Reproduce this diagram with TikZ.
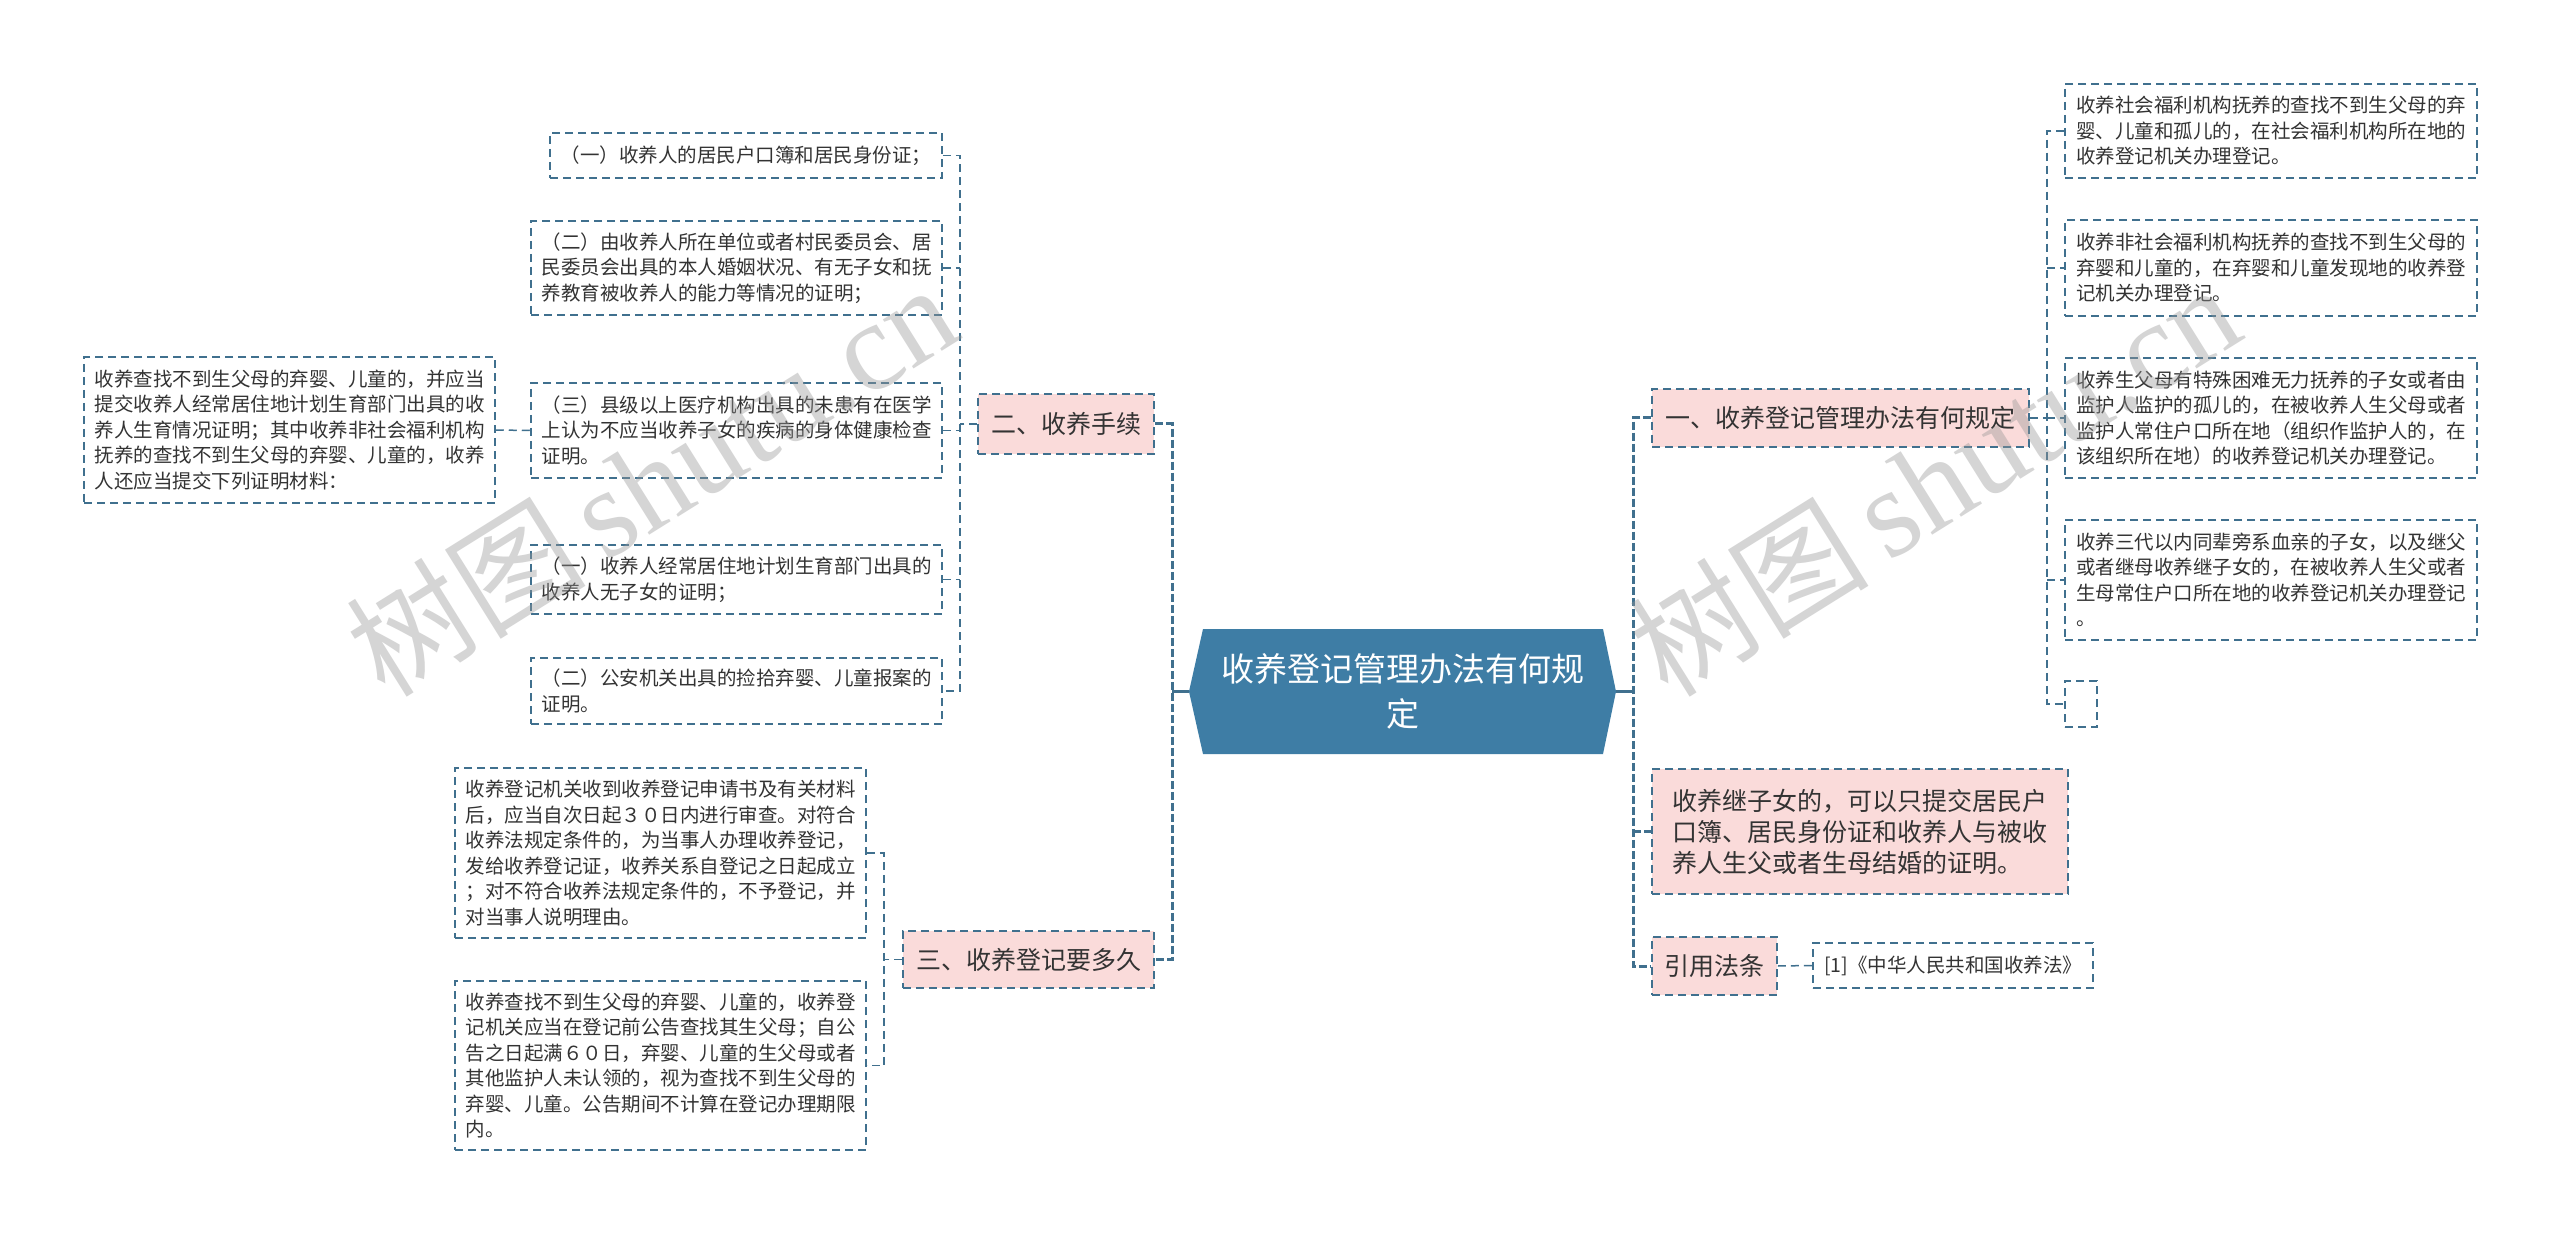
\documentclass[tikz,border=0pt]{standalone}
\usepackage{fontspec}
\setmainfont{Noto Sans CJK SC}
\newfontfamily\wmlatin{Liberation Serif}
\definecolor{lnc}{RGB}{64,112,142}
\definecolor{pinkf}{RGB}{250,219,218}
\definecolor{ctrc}{RGB}{62,125,165}
\definecolor{txt}{RGB}{51,51,51}
\definecolor{wmc}{RGB}{150,150,150}
\tikzset{
  leaf/.style={draw=lnc, line width=0.75pt, dash pattern=on 4pt off 2.5pt, text=txt,
    align=left, inner sep=0pt, font=\fontsize{9.75}{12.75}\selectfont},
  branch/.style={leaf, fill=pinkf, font=\fontsize{12.5}{15.5}\selectfont},
  ctrnode/.style={inner sep=0pt, text=white, align=center,
    font=\fontsize{16.5}{22.5}\selectfont, minimum width=213.5pt, minimum height=62.5pt},
  twig/.style={draw=lnc, line width=0.75pt, dash pattern=on 4pt off 2.5pt},
  trunk/.style={draw=lnc, line width=1.5pt, dash pattern=on 4pt off 1.5pt},
  solidtrunk/.style={draw=lnc, line width=1.5pt},
  wmark/.style={text=wmc, opacity=0.4, anchor=base west, rotate=32, inner sep=0pt}
}
\begin{document}
\begin{tikzpicture}[x=0.5pt,y=-0.5pt]
\useasboundingbox (0,0) rectangle (2560,1235);
\fill[white] (0,0) rectangle (2560,1235);

% centre
\fill[ctrc] (1189,691.5) -- (1203,629) -- (1603,629) -- (1616,691.5) -- (1603,754) -- (1203,754) -- cycle;
\node[ctrnode] (c) at (1402.5,691.5) {收养登记管理办法有何规\\定};

% left branch 二
\node[branch, minimum width=88pt, minimum height=30pt] (n2) at (1066,424) {二、收养手续};
\node[leaf, minimum width=196pt, minimum height=22.5pt] (L1) at (746,155.5) {（一）收养人的居民户口簿和居民身份证；};
\node[leaf, minimum width=205.5pt, minimum height=47pt] (L2) at (736.5,268) {（二）由收养人所在单位或者村民委员会、居\\民委员会出具的本人婚姻状况、有无子女和抚\\养教育被收养人的能力等情况的证明；};
\node[leaf, minimum width=205.5pt, minimum height=47.5pt] (L3) at (736.5,430.5) {（三）县级以上医疗机构出具的未患有在医学\\上认为不应当收养子女的疾病的身体健康检查\\证明。};
\node[leaf, minimum width=205.5pt, minimum height=34.5pt] (L4) at (736.5,579.5) {（一）收养人经常居住地计划生育部门出具的\\收养人无子女的证明；};
\node[leaf, minimum width=205.5pt, minimum height=33pt] (L5) at (736.5,691) {（二）公安机关出具的捡拾弃婴、儿童报案的\\证明。};
\node[leaf, minimum width=205.5pt, minimum height=73pt] (FL) at (289.5,430) {收养查找不到生父母的弃婴、儿童的，并应当\\提交收养人经常居住地计划生育部门出具的收\\养人生育情况证明；其中收养非社会福利机构\\抚养的查找不到生父母的弃婴、儿童的，收养\\人还应当提交下列证明材料：};

% left branch 三
\node[branch, minimum width=125.5pt, minimum height=28.5pt] (n3) at (1028.5,959.5) {三、收养登记要多久};
\node[leaf, minimum width=205.5pt, minimum height=85pt] (B1) at (660.5,853) {收养登记机关收到收养登记申请书及有关材料\\后，应当自次日起３０日内进行审查。对符合\\收养法规定条件的，为当事人办理收养登记，\\发给收养登记证，收养关系自登记之日起成立\\；对不符合收养法规定条件的，不予登记，并\\对当事人说明理由。};
\node[leaf, minimum width=205.5pt, minimum height=84.5pt] (B2) at (660.5,1065.5) {收养查找不到生父母的弃婴、儿童的，收养登\\记机关应当在登记前公告查找其生父母；自公\\告之日起满６０日，弃婴、儿童的生父母或者\\其他监护人未认领的，视为查找不到生父母的\\弃婴、儿童。公告期间不计算在登记办理期限\\内。};

% right branches
\node[branch, minimum width=188.5pt, minimum height=29pt] (n1) at (1840.5,418) {一、收养登记管理办法有何规定};
\node[leaf, minimum width=206pt, minimum height=47pt] (R1) at (2271,131) {收养社会福利机构抚养的查找不到生父母的弃\\婴、儿童和孤儿的，在社会福利机构所在地的\\收养登记机关办理登记。};
\node[leaf, minimum width=206pt, minimum height=48pt] (R2) at (2271,268) {收养非社会福利机构抚养的查找不到生父母的\\弃婴和儿童的，在弃婴和儿童发现地的收养登\\记机关办理登记。};
\node[leaf, minimum width=206pt, minimum height=60pt] (R3) at (2271,418) {收养生父母有特殊困难无力抚养的子女或者由\\监护人监护的孤儿的，在被收养人生父母或者\\监护人常住户口所在地（组织作监护人的，在\\该组织所在地）的收养登记机关办理登记。};
\node[leaf, minimum width=206pt, minimum height=60pt] (R4) at (2271,580) {收养三代以内同辈旁系血亲的子女，以及继父\\或者继母收养继子女的，在被收养人生父或者\\生母常住户口所在地的收养登记机关办理登记\\。};
\node[leaf, minimum width=16pt, minimum height=23pt] (R5) at (2081,704) {};
\node[branch, minimum width=208pt, minimum height=62.5pt] (n4) at (1860,831.5) {收养继子女的，可以只提交居民户\\口簿、居民身份证和收养人与被收\\养人生父或者生母结婚的证明。};
\node[branch, minimum width=62.5pt, minimum height=29pt] (n6) at (1714.5,966) {引用法条};
\node[leaf, minimum width=140pt, minimum height=22.5pt] (ref) at (1953,965.5) {[1]《中华人民共和国收养法》};

% junction points
\coordinate (cl) at (1172,691.5);
\coordinate (cr) at (1633,691.5);
\coordinate (k2) at (960,424);
\coordinate (k3) at (884,959.5);
\coordinate (k1) at (2047,418);

% main connectors
\draw[solidtrunk] (c.west) -- (cl);
\draw[trunk] (n2.east) -| (cl) |- (n3.east);
\draw[solidtrunk] (c.east) -- (cr);
\draw[trunk] (n1.west) -| (cr) |- (n6.west);
\draw[trunk] (cr |- n4.west) -- (n4.west);

% branch 二 children
\draw[twig] (n2.west) -- (k2);
\draw[twig] (L1.east) -| (k2) |- (L5.east);
\draw[twig] (L2.east) -- (L2.east -| k2);
\draw[twig] (L3.east) -- (L3.east -| k2);
\draw[twig] (L4.east) -- (L4.east -| k2);
\draw[twig] (FL.east) -- (L3.west);

% branch 三 children
\draw[twig] (n3.west) -- (k3);
\draw[twig] (B1.east) -| (k3) |- (B2.east);

% branch 一 children
\draw[twig] (n1.east) -- (k1);
\draw[twig] (R1.west) -| (k1) |- (R5.west);
\draw[twig] (k1 |- R2.west) -- (R2.west);
\draw[twig] (k1 |- R3.west) -- (R3.west);
\draw[twig] (k1 |- R4.west) -- (R4.west);
\draw[twig] (n6.east) -- (ref.west);

% watermarks
\node[wmark] (wm1) at (385,700) {\fontsize{60}{60}\selectfont 树图\,{\wmlatin\fontsize{63}{63}\selectfont shutu.cn}};
\node[wmark] (wm2) at (1668,700) {\fontsize{60}{60}\selectfont 树图\,{\wmlatin\fontsize{63}{63}\selectfont shutu.cn}};
\end{tikzpicture}
\end{document}
